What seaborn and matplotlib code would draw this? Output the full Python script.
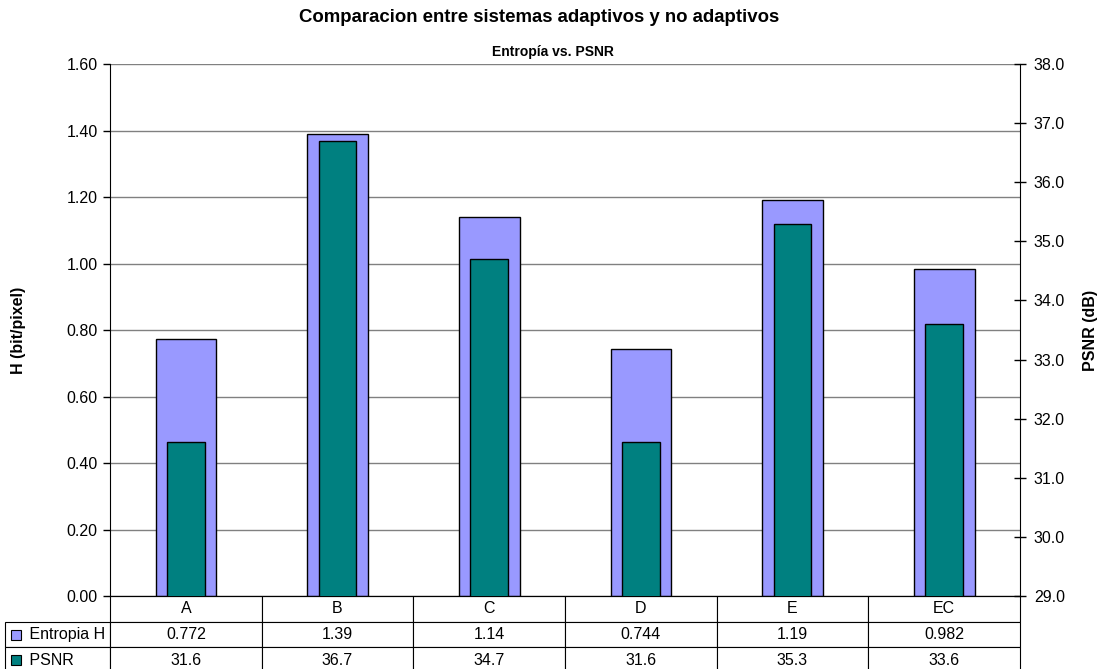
import matplotlib
matplotlib.use("Agg")
import matplotlib.pyplot as plt
import seaborn as sns
import pandas as pd
from matplotlib.table import Table
from matplotlib.patches import Rectangle

categories = ["A", "B", "C", "D", "E", "EC"]
entropia = [0.772, 1.39, 1.14, 0.744, 1.19, 0.982]
psnr = [31.6, 36.7, 34.7, 31.6, 35.3, 33.6]
entropia_labels = ["0.772", "1.39", "1.14", "0.744", "1.19", "0.982"]
psnr_labels = ["31.6", "36.7", "34.7", "31.6", "35.3", "33.6"]
series_names = ["Entropia H", "PSNR"]
left_ticks = [0.0, 0.2, 0.4, 0.6, 0.8, 1.0, 1.2, 1.4, 1.6]
right_ticks = [29, 30, 31, 32, 33, 34, 35, 36, 37, 38]

LAV = "#9999FF"
TEAL = "#008080"

sns.set_style("white")
plt.rcParams["font.family"] = ["Liberation Sans", "DejaVu Sans"]
plt.rcParams["text.color"] = "black"
plt.rcParams["axes.labelcolor"] = "black"

df = pd.DataFrame({"cat": categories, "H": entropia, "PSNR": psnr})

fig = plt.figure(figsize=(11.03, 6.69), dpi=100)
W, H = 1103, 669
x0, x1, y0, y1 = 110, 1020, 64, 596
ax = fig.add_axes([x0 / W, 1 - y1 / H, (x1 - x0) / W, (y1 - y0) / H])

sns.barplot(data=df, x="cat", y="H", ax=ax, color=LAV, width=0.4,
            edgecolor="black", linewidth=1, saturation=1, zorder=2)
ax2 = ax.twinx()
sns.barplot(data=df, x="cat", y="PSNR", ax=ax2, color=TEAL, width=0.25,
            edgecolor="black", linewidth=1, saturation=1, zorder=2)

ax.set_xlim(-0.5, len(categories) - 0.5)
ax.set_ylim(0, 1.6)
ax2.set_ylim(29, 38)
ax.set_yticks(left_ticks)
ax.set_yticklabels([f"{v:.2f}" for v in left_ticks])
ax2.set_yticks(right_ticks)
ax2.set_yticklabels([f"{v:.1f}" for v in right_ticks])

ax.yaxis.grid(True, color="#808080", linewidth=1)
ax.set_axisbelow(True)
for a in (ax, ax2):
    a.set_xlabel("")
    a.set_ylabel("")
    a.tick_params(axis="x", length=0, labelbottom=False)
    for s in a.spines.values():
        s.set_visible(False)
ax.spines["left"].set_visible(True)
ax.spines["left"].set_color("black")
ax.spines["bottom"].set_visible(True)
ax.spines["bottom"].set_color("black")
ax2.spines["right"].set_visible(True)
ax2.spines["right"].set_color("black")

ax.tick_params(axis="y", left=True, direction="out", length=5, width=1,
               labelsize=11.5, colors="black", pad=4)
ax2.tick_params(axis="y", right=True, direction="inout", length=8, width=1,
                labelsize=11.5, colors="black", pad=6)

ax.set_ylabel("H (bit/pixel)", fontsize=11.5, fontweight="bold", labelpad=29)
ax2.set_ylabel("PSNR (dB)", fontsize=11.5, fontweight="bold", labelpad=13)

fig.text(539 / W, 1 - 18 / H, "Comparacion entre sistemas adaptivos y no adaptivos",
         ha="center", va="center", fontsize=13.4, fontweight="bold")
fig.text(553 / W, 1 - 52 / H, "Entropía vs. PSNR",
         ha="center", va="center", fontsize=10, fontweight="bold")

# data table
tx0, ty1 = 5, 673
aw, ah = x1 - x0, y1 - y0
tbl = Table(ax, bbox=[(tx0 - x0) / aw, -(ty1 - y1) / ah, (x1 - tx0) / aw, (ty1 - y1) / ah])
lab_w = (x0 - tx0) / (x1 - tx0)
col_w = (1 - lab_w) / len(categories)
rh = 1 / 3
for j, c in enumerate(categories):
    tbl.add_cell(0, j + 1, col_w, rh, text=c, loc="center", edgecolor="black")
rows = [entropia_labels, psnr_labels]
for i, (name, vals) in enumerate(zip(series_names, rows)):
    tbl.add_cell(i + 1, 0, lab_w, rh, text="     " + name, loc="left", edgecolor="black")
    for j, v in enumerate(vals):
        tbl.add_cell(i + 1, j + 1, col_w, rh, text=v, loc="center", edgecolor="black")
tbl.auto_set_font_size(False)
tbl.set_fontsize(11.5)
for cell in tbl.get_celld().values():
    cell.set_linewidth(0.8)
    cell.PAD = 0.02
ax.add_table(tbl)

# legend keys in table
row_h = (ty1 - y1) / 3
for i, col in enumerate([LAV, TEAL]):
    cy = y1 + row_h * (i + 1.5)
    fig.patches.append(Rectangle((11 / W, 1 - (cy + 5) / H), 10 / W, 10 / H,
                                 transform=fig.transFigure, facecolor=col,
                                 edgecolor="black", linewidth=0.8))

fig.savefig("out.png", dpi=100)
